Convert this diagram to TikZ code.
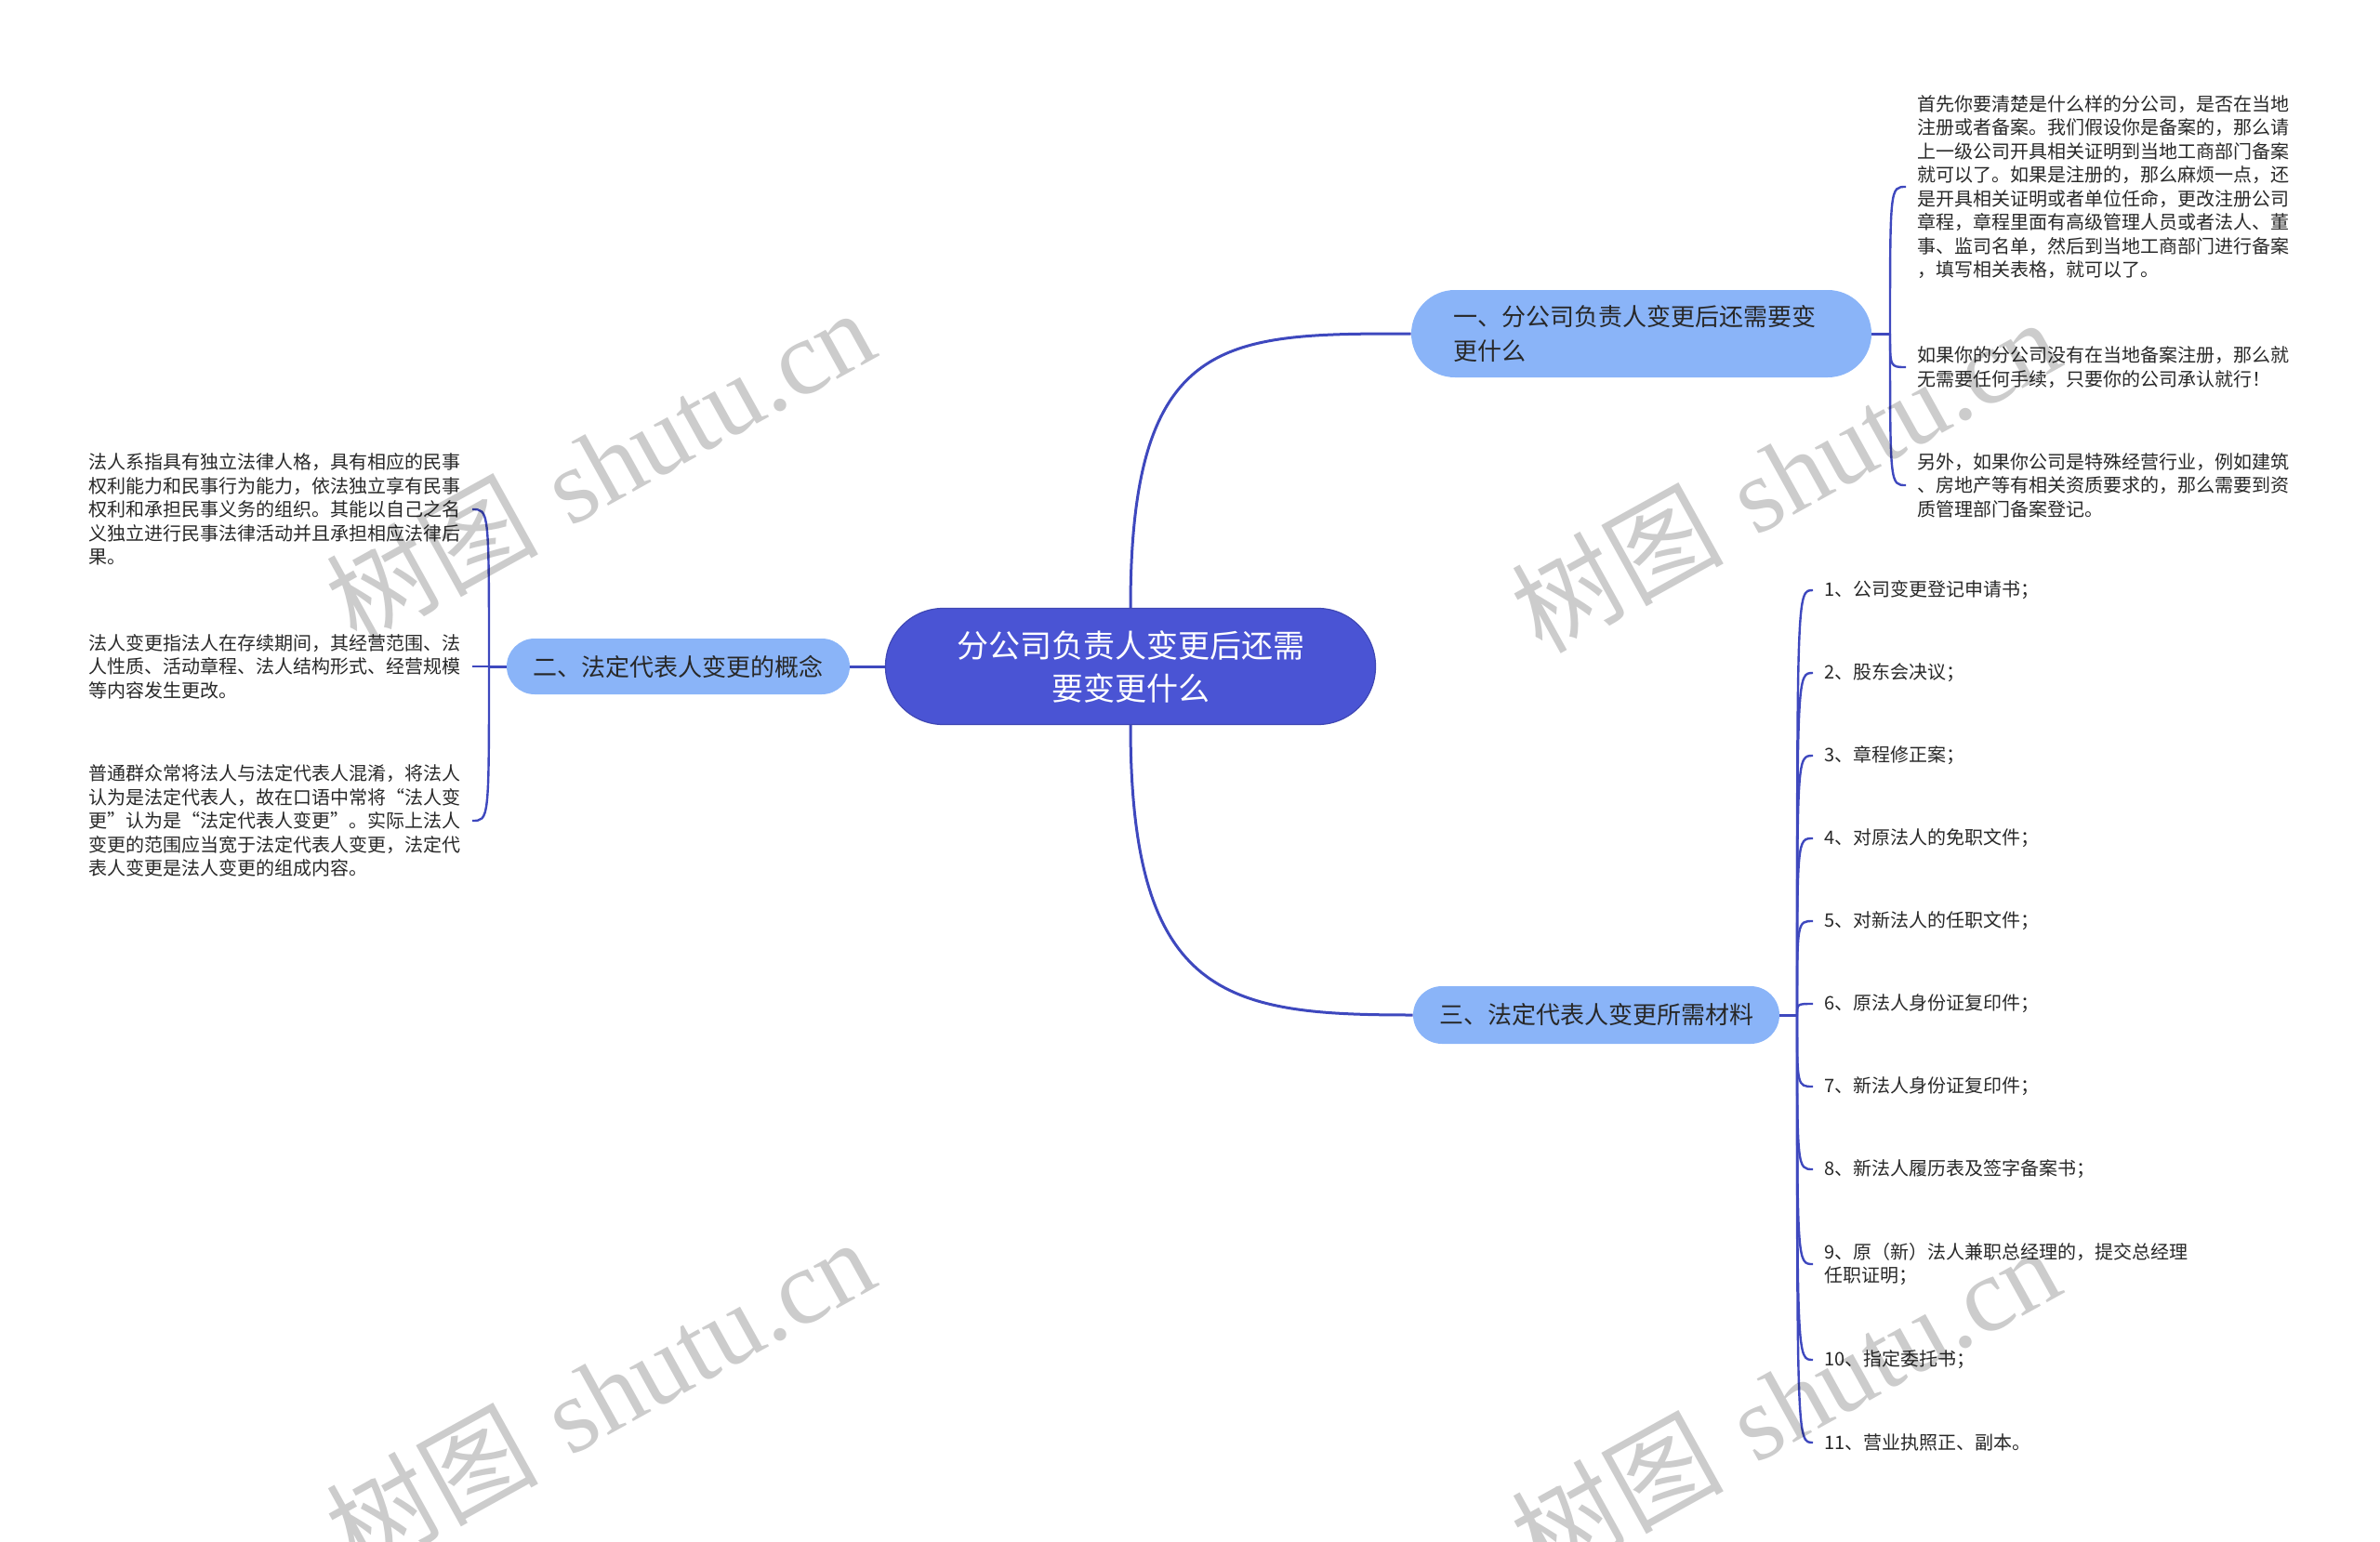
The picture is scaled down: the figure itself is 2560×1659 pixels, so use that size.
\documentclass[tikz,border=0pt]{standalone}
\usepackage{fontspec}
\newfontfamily\cjk{Noto Sans CJK SC}
\newfontfamily\wmfont{Liberation Serif}
\usetikzlibrary{shapes,positioning,calc}
\definecolor{rootblue}{RGB}{74,84,212}
\definecolor{topicblue}{RGB}{138,180,248}
\definecolor{linkblue}{RGB}{62,72,190}
\definecolor{textgray}{RGB}{40,40,40}
\tikzstyle{rootbox} = [rectangle, rounded corners=31pt, fill=rootblue, draw=rootblue!85!black, line width=0.6pt, text=white, font=\cjk\fontsize{17}{23}\selectfont, align=center, minimum width=263.5pt, minimum height=62.5pt, inner sep=0pt]
\tikzstyle{topicbox} = [rectangle, fill=topicblue, text=textgray, font=\cjk\fontsize{13}{18.5}\selectfont, align=left, inner sep=0pt]
\tikzstyle{leafbox} = [font=\cjk\fontsize{10}{12.75}\selectfont, text=textgray, align=left, inner xsep=6pt, inner ysep=2pt]
\tikzstyle{mainlink} = [draw=linkblue, line width=1.5pt]
\tikzstyle{twig} = [draw=linkblue, line width=1.2pt]
\tikzstyle{wmark} = [text=black, text opacity=0.2, font=\fontsize{57}{57}\selectfont, rotate=29, inner sep=0pt]

\begin{document}
\begin{tikzpicture}[x=0.5pt, y=-0.5pt]
    \useasboundingbox (0,0) rectangle (2560,1659);

    % centre and main topics
    \node[rootbox] (root) at (1216,717) {分公司负责人变更后还需\\要变更什么};
    \node[topicbox, rounded corners=23.5pt, minimum width=247.5pt, minimum height=47pt, text width=202pt] (t1) at (1765.5,359) {一、分公司负责人变更后还需要变\\更什么};
    \node[topicbox, rounded corners=15pt, minimum width=184.5pt, minimum height=30pt] (t2) at (729.5,717) {二、法定代表人变更的概念};
    \node[topicbox, rounded corners=15.5pt, minimum width=197pt, minimum height=31pt] (t3) at (1717,1092) {三、法定代表人变更所需材料};

    \coordinate (j1) at (2033,359);
    \coordinate (j2) at (526,717);
    \coordinate (j3) at (1933,1092);

    % topic one
    \node[leafbox, anchor=west] (r1) at (2050,201) {首先你要清楚是什么样的分公司，是否在当地\\注册或者备案。我们假设你是备案的，那么请\\上一级公司开具相关证明到当地工商部门备案\\就可以了。如果是注册的，那么麻烦一点，还\\是开具相关证明或者单位任命，更改注册公司\\章程，章程里面有高级管理人员或者法人、董\\事、监司名单，然后到当地工商部门进行备案\\，填写相关表格，就可以了。};
    \node[leafbox, anchor=west] (r2) at (2050,395) {如果你的分公司没有在当地备案注册，那么就\\无需要任何手续，只要你的公司承认就行！};
    \node[leafbox, anchor=west] (r3) at (2050,522) {另外，如果你公司是特殊经营行业，例如建筑\\、房地产等有相关资质要求的，那么需要到资\\质管理部门备案登记。};

    % topic two
    \node[leafbox, anchor=east] (l1) at (508,548) {法人系指具有独立法律人格，具有相应的民事\\权利能力和民事行为能力，依法独立享有民事\\权利和承担民事义务的组织。其能以自己之名\\义独立进行民事法律活动并且承担相应法律后\\果。};
    \node[leafbox, anchor=east] (l2) at (508,717) {法人变更指法人在存续期间，其经营范围、法\\人性质、活动章程、法人结构形式、经营规模\\等内容发生更改。};
    \node[leafbox, anchor=east] (l3) at (508,883) {普通群众常将法人与法定代表人混淆，将法人\\认为是法定代表人，故在口语中常将“法人变\\更”认为是“法定代表人变更”。实际上法人\\变更的范围应当宽于法定代表人变更，法定代\\表人变更是法人变更的组成内容。};

    % topic three
    \node[leafbox, anchor=west] (m1) at (1950,635) {1、公司变更登记申请书；};
    \node[leafbox, anchor=west] (m2) at (1950,724) {2、股东会决议；};
    \node[leafbox, anchor=west] (m3) at (1950,813) {3、章程修正案；};
    \node[leafbox, anchor=west] (m4) at (1950,902) {4、对原法人的免职文件；};
    \node[leafbox, anchor=west] (m5) at (1950,991) {5、对新法人的任职文件；};
    \node[leafbox, anchor=west] (m6) at (1950,1080) {6、原法人身份证复印件；};
    \node[leafbox, anchor=west] (m7) at (1950,1169) {7、新法人身份证复印件；};
    \node[leafbox, anchor=west] (m8) at (1950,1258) {8、新法人履历表及签字备案书；};
    \node[leafbox, anchor=west] (m9) at (1950,1360) {9、原（新）法人兼职总经理的，提交总经理\\任职证明；};
    \node[leafbox, anchor=west] (m10) at (1950,1463) {10、指定委托书；};
    \node[leafbox, anchor=west] (m11) at (1950,1552) {11、营业执照正、副本。};

    \draw[mainlink] (root.north) .. controls ($(root.north)+(0,-295)$) and ($(t1.west)+(-200,0)$) .. (t1.west);
    \draw[mainlink] (root.south) .. controls ($(root.south)+(0,295)$) and ($(t3.west)+(-200,0)$) .. (t3.west);
    \draw[mainlink] (root.west) -- (t2.east);
    \draw[mainlink] (t1.east) -- (j1);
    \draw[mainlink] (t2.west) -- (j2);
    \draw[mainlink] (t3.east) -- (j3);

    \draw[twig] (j1) .. controls (j1 |- r1.west) .. (r1.west);
    \draw[twig] (j1) .. controls (j1 |- r2.west) .. (r2.west);
    \draw[twig] (j1) .. controls (j1 |- r3.west) .. (r3.west);
    \draw[twig] (j2) .. controls (j2 |- l1.east) .. (l1.east);
    \draw[twig] (j2) -- (l2.east);
    \draw[twig] (j2) .. controls (j2 |- l3.east) .. (l3.east);
    \draw[twig] (j3) .. controls (j3 |- m1.west) .. (m1.west);
    \draw[twig] (j3) .. controls (j3 |- m2.west) .. (m2.west);
    \draw[twig] (j3) .. controls (j3 |- m3.west) .. (m3.west);
    \draw[twig] (j3) .. controls (j3 |- m4.west) .. (m4.west);
    \draw[twig] (j3) .. controls (j3 |- m5.west) .. (m5.west);
    \draw[twig] (j3) .. controls (j3 |- m6.west) .. (m6.west);
    \draw[twig] (j3) .. controls (j3 |- m7.west) .. (m7.west);
    \draw[twig] (j3) .. controls (j3 |- m8.west) .. (m8.west);
    \draw[twig] (j3) .. controls (j3 |- m9.west) .. (m9.west);
    \draw[twig] (j3) .. controls (j3 |- m10.west) .. (m10.west);
    \draw[twig] (j3) .. controls (j3 |- m11.west) .. (m11.west);

    % watermarks
    \node[wmark] (w1) at (645,500) {{\cjk 树图} {\wmfont shutu.cn}};
    \node[wmark] (w2) at (1920,510) {{\cjk 树图} {\wmfont shutu.cn}};
    \node[wmark] (w3) at (645,1500) {{\cjk 树图} {\wmfont shutu.cn}};
    \node[wmark] (w4) at (1920,1508) {{\cjk 树图} {\wmfont shutu.cn}};
\end{tikzpicture}
\end{document}
